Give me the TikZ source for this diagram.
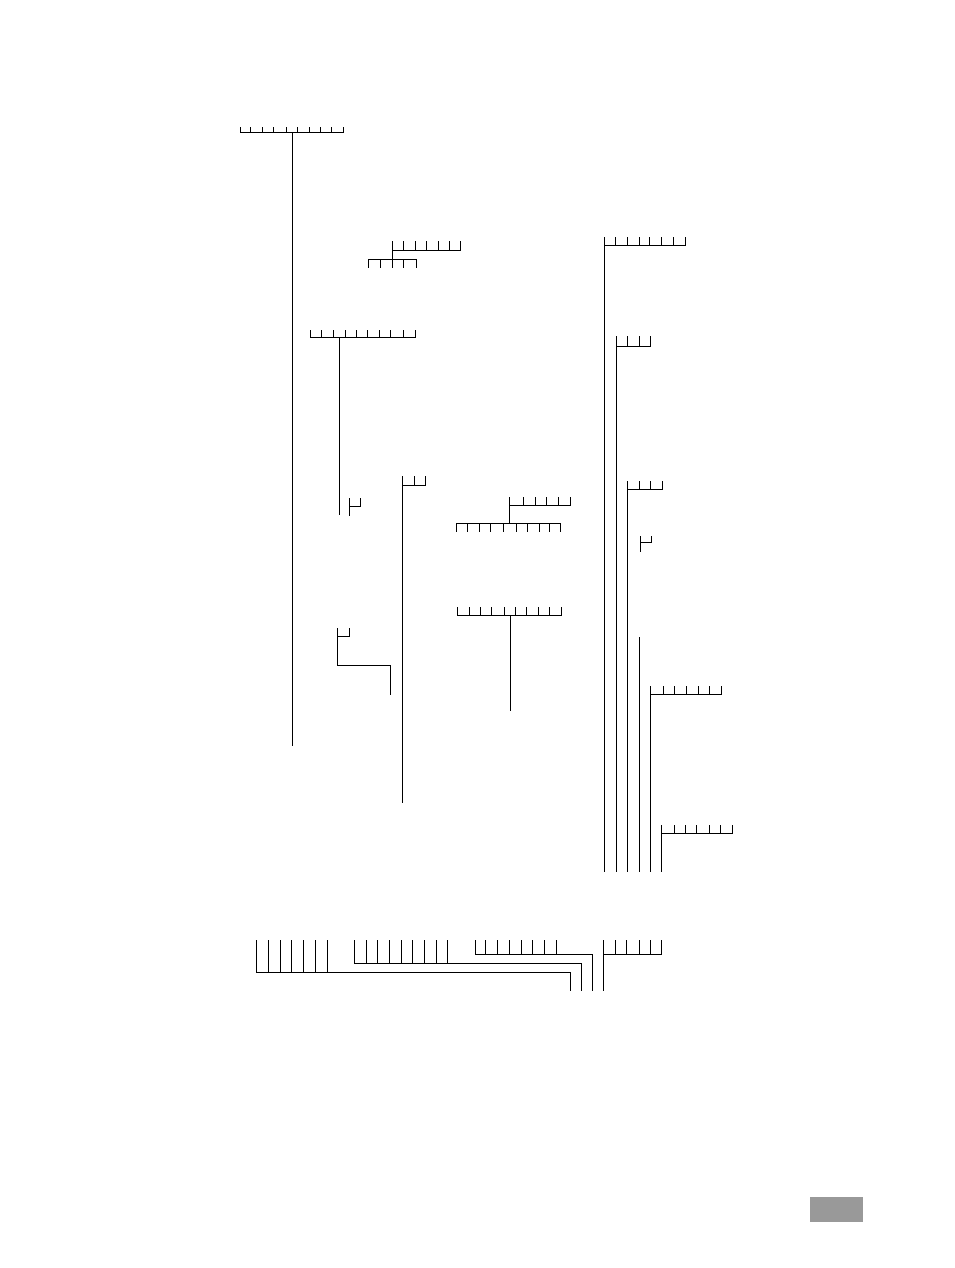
\documentclass[tikz,border=0pt]{standalone}
\usepackage{tikz}

\tikzset{
  bar/.style={line width=1pt,line cap=rect},
  tab/.style={fill=black!40,draw=none}
}

\begin{document}
\begin{tikzpicture}[x=1pt,y=-1pt,bar]
      \useasboundingbox (0,0) rectangle (954,1268) ;
      % top left comb and its long stem
      \draw (240,132.7)--(343.3,132.7) ;
      \foreach \x in {240,250.7,262.3,273.3,286,297.7,309.3,320,331.7,343.3}
        \draw (\x,127.3)--(\x,132.7) ;
      \coordinate (rootA) at (292.7,132.7) ;
      \coordinate (rootB) at (292.7,745) ;
      \draw (rootA)--(rootB) ;
      % double comb
      \draw (392,250.7)--(460.7,250.7) ;
      \foreach \x in {392,403.3,415,426.7,438.3,449.3,460.7}
        \draw (\x,241.7)--(\x,250.7) ;
      \draw (368.3,259.3)--(416,259.3) ;
      \foreach \x in {368.3,380.7,392,403.3,416}
        \draw (\x,259.3)--(\x,267.3) ;
      \draw (392,241.7)--(392,267.3) ;
      % second comb
      \draw (310.7,337.3)--(415.7,337.3) ;
      \foreach \x in {310.7,321.7,333.3,345,356,367.7,379.3,390.7,403.3,415.7}
        \draw (\x,330)--(\x,337.3) ;
      \coordinate (midA) at (339,337.3) ;
      \coordinate (midB) at (339,514) ;
      \draw (midA)--(midB) ;
      \draw (349,498.3)--(349,515.7) (349,506.7)--(360.7,506.7)--(360.7,498.3) ;
      % fork on 402
      \coordinate (forkA) at (402.3,476.7) ;
      \coordinate (forkB) at (402.3,802) ;
      \draw (forkA)--(forkB) ;
      \draw (402.3,485.7)--(425.7,485.7) ;
      \foreach \x in {414,425.7}
        \draw (\x,476.7)--(\x,485.7) ;
      % middle double comb
      \draw (509.3,497.3)--(509.3,523.3) (509.3,505.7)--(570,505.7) ;
      \foreach \x in {523.3,535.7,546.7,558.3,570}
        \draw (\x,497.3)--(\x,505.7) ;
      \draw (456.7,523.3)--(560,523.3) ;
      \foreach \x in {456.7,467.3,479.3,490.7,503.3,516,527.7,539.3,549.3,560}
        \draw (\x,523.3)--(\x,531.7) ;
      % lower middle comb
      \draw (457.3,615)--(561,615) ;
      \foreach \x in {457.3,469,480,491.7,504,515.7,526.7,538.3,549.3,561}
        \draw (\x,607.3)--(\x,615) ;
      \coordinate (lowA) at (510,615) ;
      \coordinate (lowB) at (510,710) ;
      \draw (lowA)--(lowB) ;
      \draw (349.3,628.3)--(349.3,636)--(337.3,636) ;
      \draw (337.3,628.3)--(337.3,665.7)--(390.7,665.7)--(390.7,694) ;
      % right hand column
      \draw (604.3,245)--(685,245) ;
      \foreach \x in {604.3,615.7,627.3,639,649,661,673.3,685}
        \draw (\x,237.7)--(\x,245) ;
      \draw (604.3,245)--(604.3,871) ;
      \draw (616.7,336.7)--(616.7,871) (616.7,346.7)--(650,346.7) ;
      \foreach \x in {627.7,639,650}
        \draw (\x,336.7)--(\x,346.7) ;
      \draw (627.3,481.7)--(627.3,871) (627.3,489)--(662.3,489) ;
      \foreach \x in {639,650.7,662.3}
        \draw (\x,481.7)--(\x,489) ;
      \draw (640,536.7)--(640,551.7) (640,542.3)--(651.7,542.3)--(651.7,536.7) ;
      \draw (639.3,637)--(639.3,871) ;
      \draw (650.7,686)--(650.7,871) (650.7,694.3)--(721.7,694.3) ;
      \foreach \x in {663.3,674.3,686.7,698.3,709.3,721.7}
        \draw (\x,686)--(\x,694.3) ;
      \draw (661.7,825)--(661.7,871) (661.7,833.3)--(732.7,833.3) ;
      \foreach \x in {674.3,685.7,696.7,709,720.7,732.7}
        \draw (\x,825)--(\x,833.3) ;
      % bottom row
      \foreach \x in {256.7,268.3,280,291.7,303.3,315.7,327.3}
        \draw (\x,940)--(\x,972.3) ;
      \draw (256.7,972.3)--(570,972.3)--(570,990.7) ;
      \foreach \x in {354.3,366,377.7,389.3,401,412.7,424.3,436,447.7}
        \draw (\x,940)--(\x,963.3) ;
      \draw (354.3,963.3)--(581,963.3)--(581,990.7) ;
      \foreach \x in {475.7,485.7,497.3,509.3,521.7,532.7,544,556}
        \draw (\x,940)--(\x,954.3) ;
      \draw (475.7,954.3)--(592.3,954.3)--(592.3,990.7) ;
      \draw (603.3,940)--(603.3,990.7) (603.3,954.3)--(661.7,954.3) ;
      \foreach \x in {615,626.7,639,650,661.7}
        \draw (\x,940)--(\x,954.3) ;
      % page tab
      \fill[tab] (810,1197) rectangle (863,1222) ;
\end{tikzpicture}
\end{document}
